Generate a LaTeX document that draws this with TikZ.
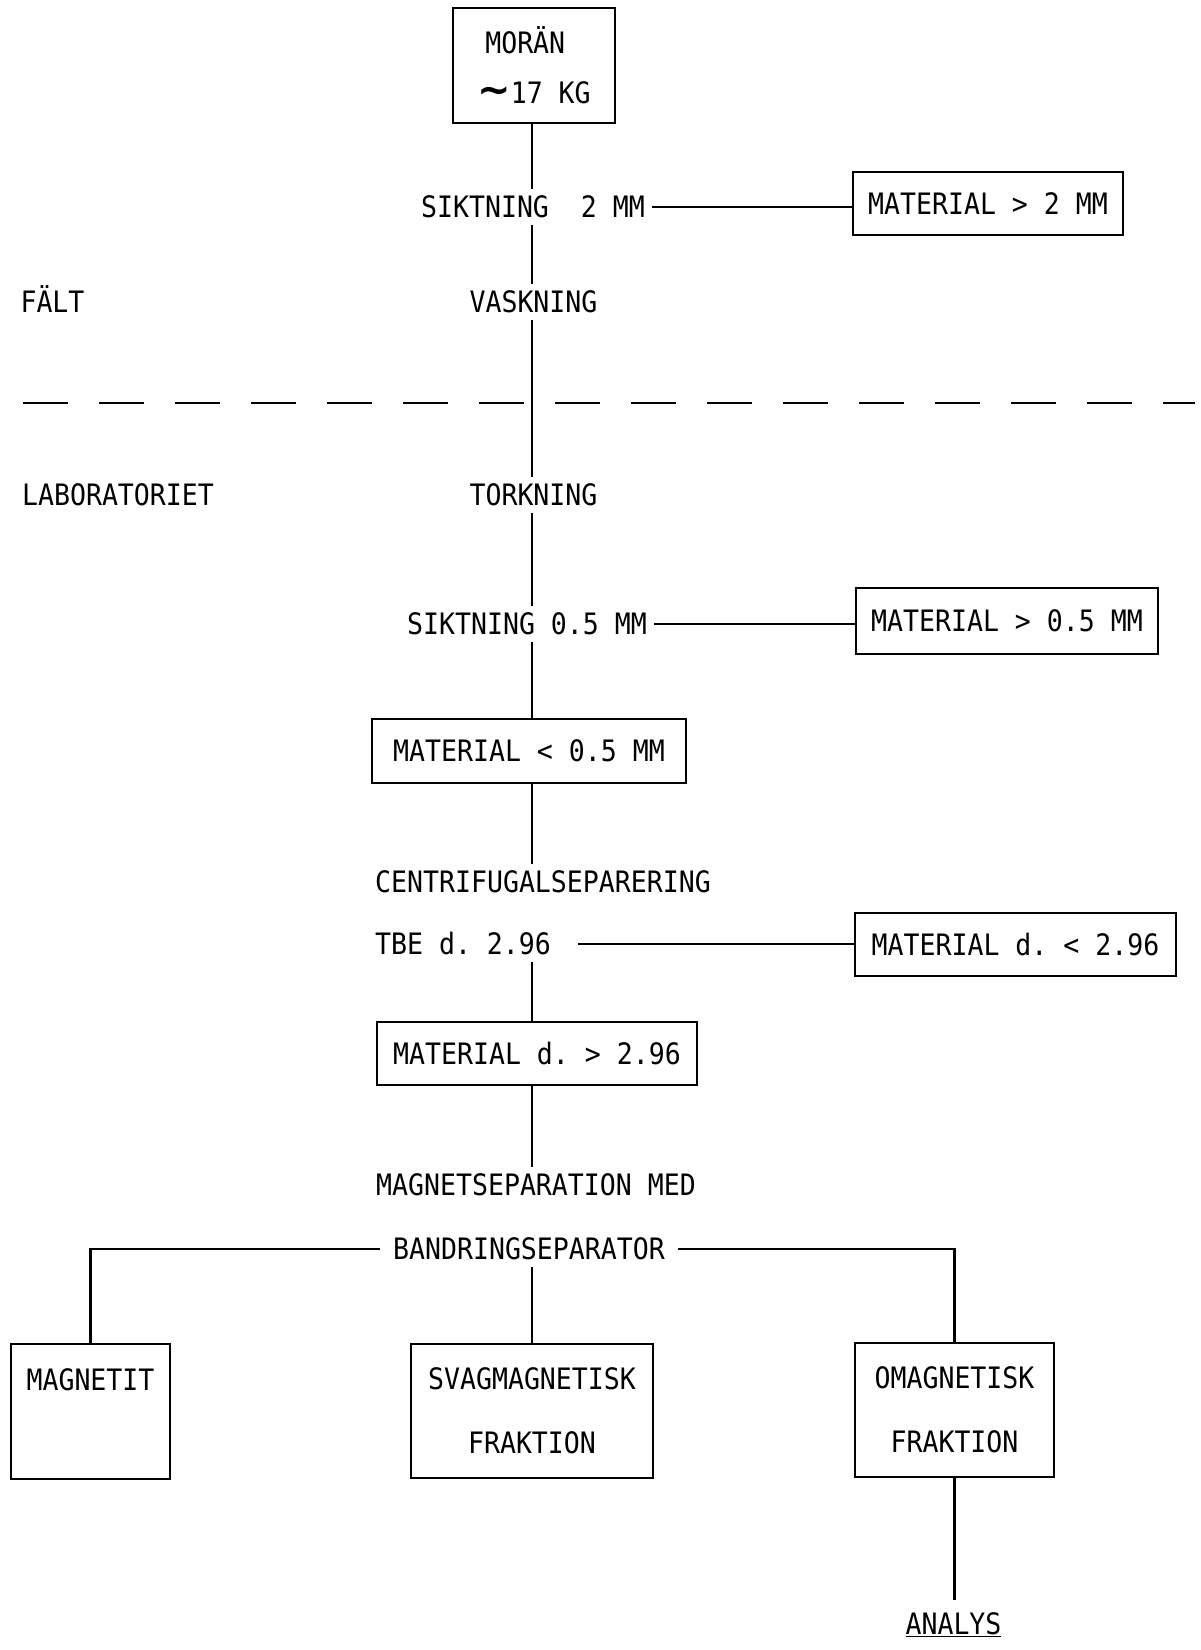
\documentclass[tikz,border=0pt]{standalone}
\usepackage{fontspec}
\newfontfamily\twfont[FakeStretch=0.9]{DejaVu Sans Mono}
\newfontfamily\symfont{DejaVu Sans}
\begin{document}
\frenchspacing
\begin{tikzpicture}[x=1pt,y=-1pt,line width=2.2pt,
  lbl/.style={font=\twfont\frenchspacing\fontsize{29.5}{50}\selectfont,inner sep=6pt,text height=21.5pt,text depth=0pt},
  box/.style={draw,font=\twfont\frenchspacing\fontsize{29.5}{50}\selectfont,inner xsep=15pt,minimum height=63pt,text height=21.5pt,text depth=0pt},
  bigbox/.style={draw,font=\twfont\fontsize{29.5}{64}\selectfont,align=center,minimum height=134pt},
  sep/.style={line width=2.8pt,dash pattern=on 45pt off 31pt}]
\useasboundingbox (0,0) rectangle (1201,1650);
\coordinate (stem) at (532,0);
% nodes
\node[draw,font=\twfont\fontsize{29.5}{50}\selectfont,align=left,minimum width=162pt,minimum height=115pt] (moran) at (534,65.5)
  {\hspace{8pt}MORÄN\\{\symfont\bfseries\fontsize{40}{40}\selectfont ∼}17 KG};
\node[lbl] (sik1) at (533,207) {SIKTNING\ \ 2 MM};
\node[box,minimum width=270pt] (m2) at (988,203.5) {MATERIAL > 2 MM};
\node[lbl] (falt) at (52.5,302) {FÄLT};
\node[lbl] (vask) at (533.5,302) {VASKNING};
\coordinate (dl) at (23,403);
\coordinate (dr) at (1195,403);
\node[lbl] (lab) at (118,495) {LABORATORIET};
\node[lbl] (tork) at (533.5,495) {TORKNING};
\node[lbl] (sik2) at (527,624) {SIKTNING 0.5 MM};
\node[box,minimum width=302pt,minimum height=66pt] (m05g) at (1007,621) {MATERIAL > 0.5 MM};
\node[box,minimum width=314pt,minimum height=64pt] (m05l) at (529,751) {MATERIAL < 0.5 MM};
\node[lbl] (centri) at (543,882) {CENTRIFUGALSEPARERING};
\node[lbl] (tbe) at (463,944) {TBE d. 2.96};
\node[box,minimum width=321pt] (mdl) at (1015.5,944.5) {MATERIAL d. < 2.96};
\node[box,minimum width=320pt] (mdg) at (537,1053.5) {MATERIAL d. > 2.96};
\node[lbl] (magsep) at (536,1185) {MAGNETSEPARATION MED};
\node[lbl,inner xsep=12pt] (band) at (529,1249) {BANDRINGSEPARATOR};
\node[bigbox,minimum width=159pt,minimum height=135pt] (magnetit) at (90.5,1411.5) {MAGNETIT\\\phantom{X}};
\node[bigbox,minimum width=242pt] (svag) at (532,1411) {SVAGMAGNETISK\\FRAKTION};
\node[bigbox,minimum width=199pt] (omag) at (954.5,1410) {OMAGNETISK\\FRAKTION};
\node[lbl] (analys) at (953.5,1624) {\underline{ANALYS}};
% separator
\draw[sep] (dl) -- (dr);
% stem
\draw (moran.south -| stem) -- (sik1.north -| stem);
\draw (sik1.south -| stem) -- (vask.north -| stem);
\draw (vask.south -| stem) -- (tork.north -| stem);
\draw (tork.south -| stem) -- (sik2.north -| stem);
\draw (sik2.south -| stem) -- (m05l.north -| stem);
\draw (m05l.south -| stem) -- (centri.north -| stem);
\draw (tbe.south -| stem) -- (mdg.north -| stem);
\draw (mdg.south -| stem) -- (magsep.north -| stem);
\draw (band.south -| stem) -- (svag.north -| stem);
% side branches
\draw (sik1.east) -- (sik1.east -| m2.west);
\draw (sik2.east) -- (sik2.east -| m05g.west);
\draw[shorten <=20pt] (tbe.east) -- (tbe.east -| mdl.west);
\draw (band.west) -| (magnetit.north);
\draw (band.east) -| (omag.north);
\draw[shorten >=6pt] (omag.south) -- (omag.south |- analys.north);
\end{tikzpicture}
\end{document}
